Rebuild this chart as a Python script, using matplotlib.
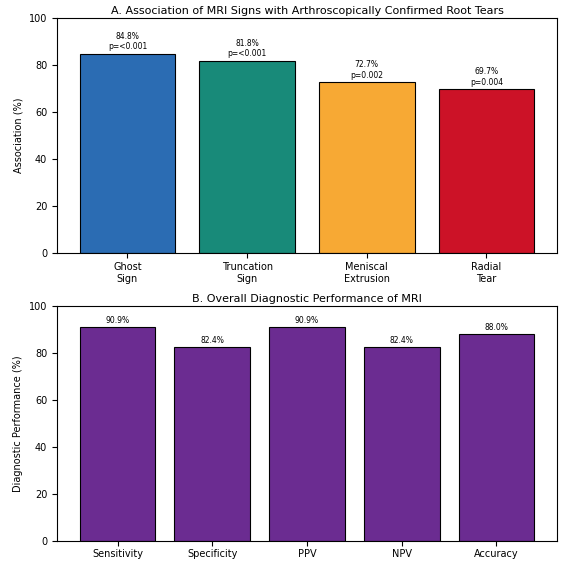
import matplotlib.pyplot as plt

signs = ['Ghost\nSign', 'Truncation\nSign', 'Meniscal\nExtrusion', 'Radial\nTear']
assoc = [84.8, 81.8, 72.7, 69.7]
pvals = ['p=<0.001', 'p=<0.001', 'p=0.002', 'p=0.004']
sign_colors = ['#2b6cb3', '#188a79', '#f7a934', '#cc1227']

metrics = ['Sensitivity', 'Specificity', 'PPV', 'NPV', 'Accuracy']
perf = [90.9, 82.4, 90.9, 82.4, 88.0]

fig = plt.figure(figsize=(5.69, 5.64), dpi=100)
ax1 = fig.add_axes([0.100, 0.552, 0.879, 0.416])
ax2 = fig.add_axes([0.100, 0.040, 0.879, 0.418])

ax1.bar(range(len(signs)), assoc, color=sign_colors, edgecolor='black', linewidth=0.8)
for i, (v, p) in enumerate(zip(assoc, pvals)):
    ax1.text(i, v + 1, f'{v}%\n{p}', ha='center', va='bottom', fontsize=5.5)
ax1.set_xticks(range(len(signs)))
ax1.set_xticklabels(signs, fontsize=7)
ax1.set_ylim(0, 100)
ax1.set_ylabel('Association (%)', fontsize=7)
ax1.set_title('A. Association of MRI Signs with Arthroscopically Confirmed Root Tears', fontsize=8, pad=3)
ax1.tick_params(axis='y', labelsize=7)

ax2.bar(range(len(metrics)), perf, color='#6b2c91', edgecolor='black', linewidth=0.8)
for i, v in enumerate(perf):
    ax2.text(i, v + 1, f'{v:.1f}%', ha='center', va='bottom', fontsize=5.5)
ax2.set_xticks(range(len(metrics)))
ax2.set_xticklabels(metrics, fontsize=7)
ax2.tick_params(axis='x', pad=2)
ax2.set_ylim(0, 100)
ax2.set_ylabel('Diagnostic Performance (%)', fontsize=7)
ax2.set_title('B. Overall Diagnostic Performance of MRI', fontsize=8, pad=3)
ax2.tick_params(axis='y', labelsize=7)

fig.savefig('out.png', dpi=100)
